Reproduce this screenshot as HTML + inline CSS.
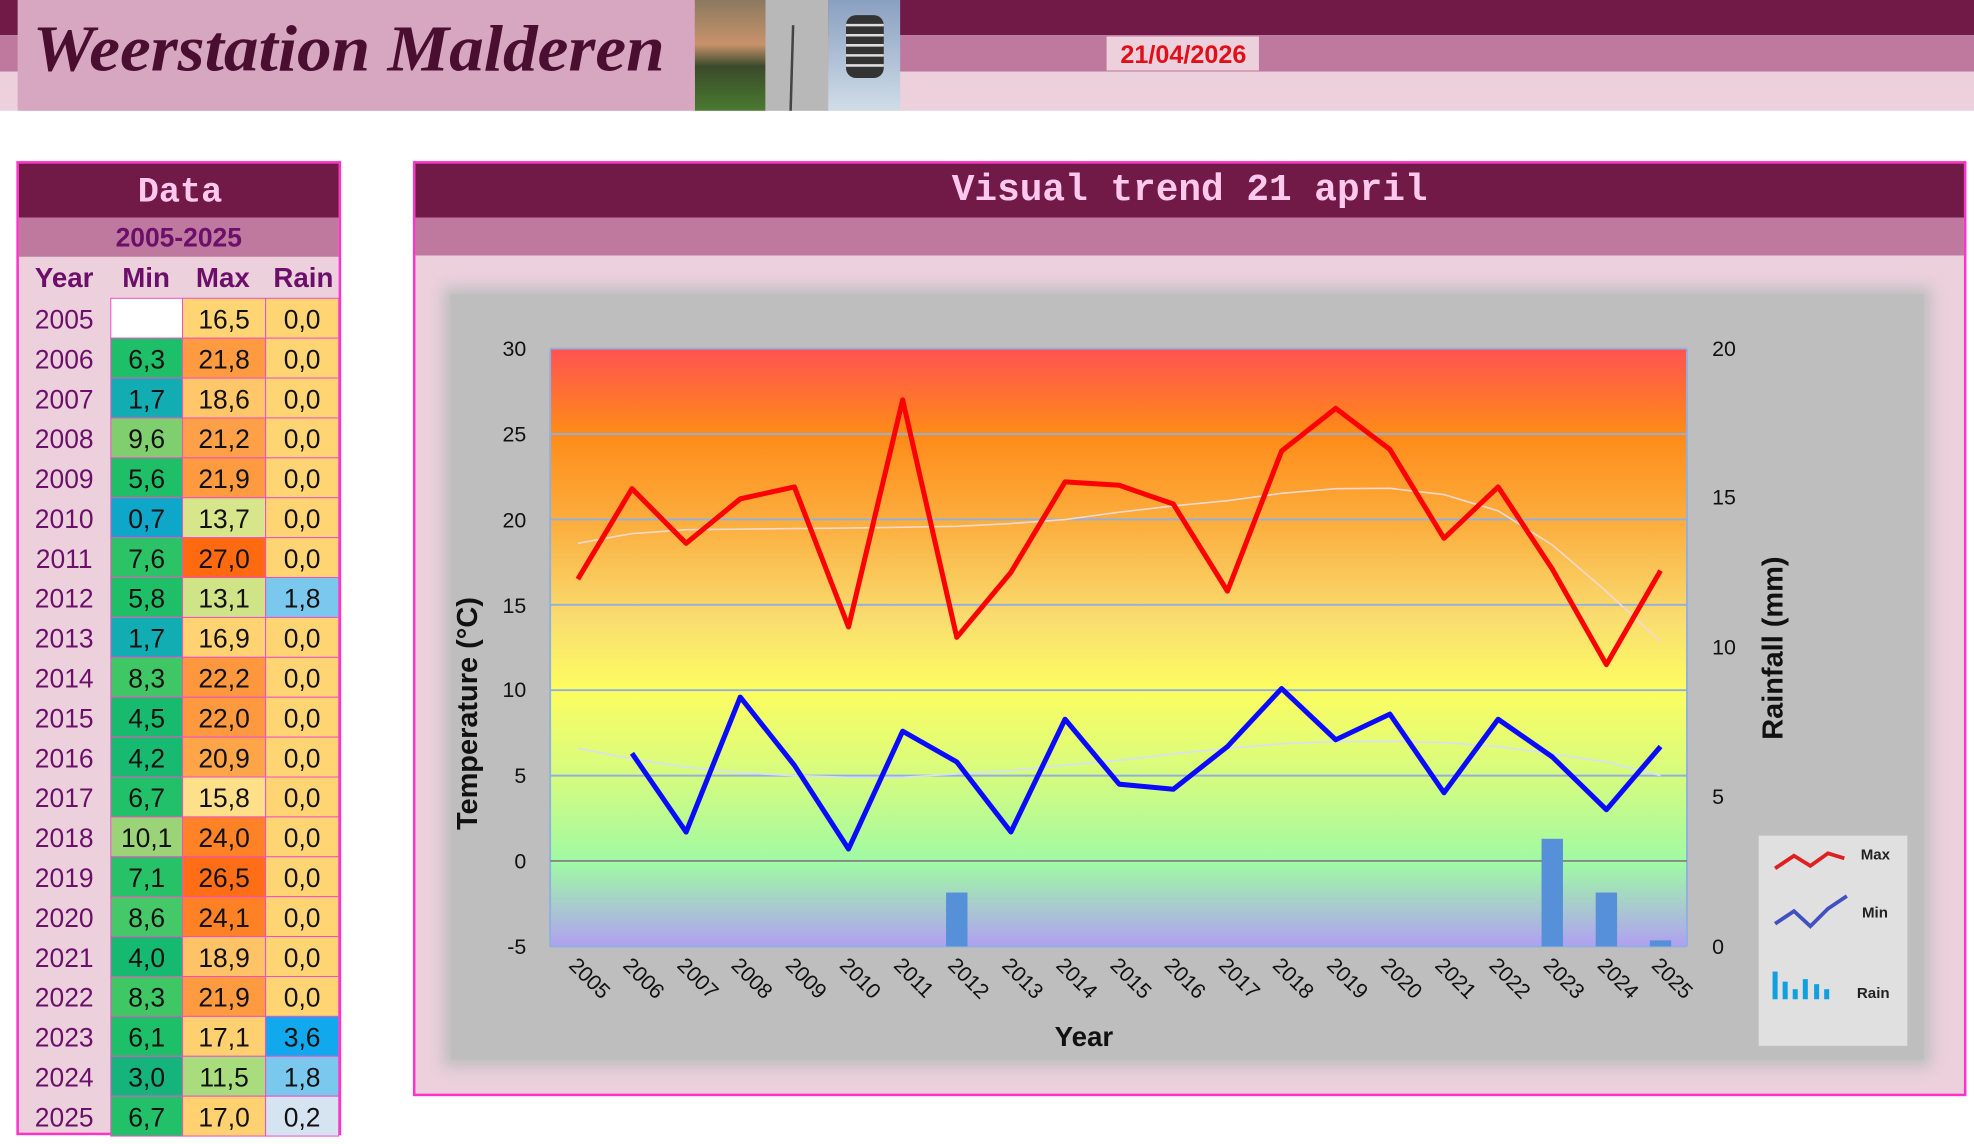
<!DOCTYPE html>
<html><head><meta charset="utf-8"><style>html,body{margin:0;padding:0;background:#fff;overflow:hidden}svg{display:block}</style></head><body>
<svg xmlns="http://www.w3.org/2000/svg" width="1974" height="1144" viewBox="0 0 1568 909" preserveAspectRatio="none" font-family="Liberation Sans, sans-serif">
<defs>
<linearGradient id="bg" x1="0" y1="0" x2="0" y2="1">
<stop offset="0" stop-color="#ff5252"/><stop offset="0.14" stop-color="#ff8a18"/><stop offset="0.3" stop-color="#fbb040"/><stop offset="0.45" stop-color="#f9dc70"/><stop offset="0.57" stop-color="#fdfd60"/><stop offset="0.72" stop-color="#d4fb80"/><stop offset="0.86" stop-color="#9ffaa4"/><stop offset="1" stop-color="#b0a0f2"/>
</linearGradient>
<filter id="bl"><feGaussianBlur stdDeviation="6"/></filter>
<linearGradient id="p1" x1="0" y1="0" x2="0" y2="1"><stop offset="0" stop-color="#8a7a60"/><stop offset="0.4" stop-color="#c8926a"/><stop offset="0.6" stop-color="#3a4a2a"/><stop offset="1" stop-color="#4a7a30"/></linearGradient>
<linearGradient id="p3" x1="0" y1="0" x2="0" y2="1"><stop offset="0" stop-color="#8aa0c0"/><stop offset="1" stop-color="#d0dde8"/></linearGradient>
</defs>
<!-- header -->
<rect x="0" y="0" width="1568" height="28" fill="#721a47"/>
<rect x="0" y="28" width="1568" height="29" fill="#c0799e"/>
<rect x="0" y="57" width="1568" height="31" fill="#ecd0dc"/>
<rect x="14" y="0" width="538" height="88" fill="#d7a6c0"/>
<text x="26" y="56" font-family="Liberation Serif, serif" font-style="italic" font-weight="bold" font-size="52" fill="#4a0e30" textLength="502" lengthAdjust="spacingAndGlyphs">Weerstation Malderen</text>
<rect x="552" y="0" width="56" height="88" fill="url(#p1)"/>
<rect x="608" y="0" width="50" height="88" fill="#b8b8b8"/>
<line x1="628" y1="88" x2="630" y2="20" stroke="#444" stroke-width="2"/>
<rect x="658" y="0" width="57" height="88" fill="url(#p3)"/>
<rect x="672" y="12" width="30" height="50" rx="8" fill="#333"/>
<g stroke="#ddd" stroke-width="2"><line x1="672" y1="20" x2="702" y2="20"/><line x1="672" y1="28" x2="702" y2="28"/><line x1="672" y1="36" x2="702" y2="36"/><line x1="672" y1="44" x2="702" y2="44"/><line x1="672" y1="52" x2="702" y2="52"/></g>
<rect x="879" y="29" width="121" height="27" fill="#ecd0dc"/>
<text x="940" y="50" text-anchor="middle" font-weight="bold" font-size="20" fill="#e0101a">21/04/2026</text>

<!-- data table -->
<rect x="14" y="129" width="256" height="772" fill="#ecd0dc" stroke="#ff33cc" stroke-width="2"/>
<rect x="15" y="130" width="254" height="43" fill="#721a47"/>
<text x="143" y="160" text-anchor="middle" font-family="Liberation Mono, monospace" font-weight="bold" font-size="28" fill="#ffc8ee">Data</text>
<rect x="15" y="173" width="254" height="31" fill="#c0799e"/>
<text x="142" y="196" text-anchor="middle" font-family="Liberation Sans Narrow, Liberation Sans, sans-serif" font-weight="bold" font-size="21" fill="#6b0f6b">2005-2025</text>
<g font-family="Liberation Sans Narrow, Liberation Sans, sans-serif" font-weight="bold" font-size="22" fill="#6b0f6b" text-anchor="middle">
<text x="51" y="228">Year</text><text x="116" y="228">Min</text><text x="177" y="228">Max</text><text x="241" y="228">Rain</text></g>
<g id="rows" font-family="Liberation Sans Narrow, Liberation Sans, sans-serif" font-size="21" text-anchor="middle" stroke-width="0.8"></g>

<!-- chart panel -->
<rect x="329" y="129" width="1232" height="741" fill="#ecd0dc" stroke="#ff33cc" stroke-width="2"/>
<rect x="330" y="130" width="1230" height="43" fill="#721a47"/>
<text x="945" y="159" text-anchor="middle" font-family="Liberation Mono, monospace" font-weight="bold" font-size="30" fill="#ffc8ee">Visual trend 21 april</text>
<rect x="330" y="173" width="1230" height="30" fill="#c0799e"/>
<rect x="352" y="228" width="1182" height="620" fill="#bebebe" filter="url(#bl)"/>
<rect x="358" y="234" width="1170" height="608" fill="#bebebe"/>
<rect x="437" y="277" width="903" height="475" fill="url(#bg)"/>
<g stroke="#8fb0e0" stroke-width="1.5">
<line x1="437" y1="277" x2="1340" y2="277"/><line x1="437" y1="344.9" x2="1340" y2="344.9"/><line x1="437" y1="412.7" x2="1340" y2="412.7"/><line x1="437" y1="480.6" x2="1340" y2="480.6"/><line x1="437" y1="548.4" x2="1340" y2="548.4"/><line x1="437" y1="616.3" x2="1340" y2="616.3"/>
<line x1="437" y1="277" x2="437" y2="752"/><line x1="1340" y1="277" x2="1340" y2="752"/></g>
<line x1="437" y1="684.1" x2="1340" y2="684.1" stroke="#888" stroke-width="1.5"/>
<line x1="437" y1="752" x2="1340" y2="752" stroke="#8fb0e0" stroke-width="1.5"/>
<g font-size="17" fill="#111" text-anchor="end">
<text x="418" y="283">30</text><text x="418" y="351">25</text><text x="418" y="419">20</text><text x="418" y="487">15</text><text x="418" y="554">10</text><text x="418" y="622">5</text><text x="418" y="690">0</text><text x="418" y="758">-5</text></g>
<g font-size="17" fill="#111">
<text x="1360" y="283">20</text><text x="1360" y="401">15</text><text x="1360" y="520">10</text><text x="1360" y="639">5</text><text x="1360" y="758">0</text></g>
<text transform="translate(379,567) rotate(-90)" text-anchor="middle" font-weight="bold" font-size="23" fill="#111">Temperature (°C)</text>
<text transform="translate(1416,515) rotate(-90)" text-anchor="middle" font-weight="bold" font-size="23" fill="#111">Rainfall (mm)</text>
<text x="861" y="831" text-anchor="middle" font-weight="bold" font-size="22" font-family="Liberation Sans Narrow, Liberation Sans, sans-serif" fill="#111">Year</text>
<g id="xl" font-size="17" fill="#111"></g>
<!-- bars -->
<g fill="#5590d8">
<rect x="751.5" y="709.2" width="17" height="42.8"/><rect x="1224.5" y="666.5" width="17" height="85.5"/><rect x="1267.5" y="709.2" width="17" height="42.8"/><rect x="1310.5" y="747.2" width="17" height="4.8"/></g>
<!-- trends -->
<polyline fill="none" stroke="#f4d8d0" stroke-width="1.3" points="459,431.7 502,424 545,420.9 631,420 674,419.6 760,418.2 803,416 846,412.8 889,407 932,402 975,397.8 1018,392 1061,388.3 1104,388 1147,393 1190,405.9 1233,433 1276,470 1319,510"/>
<polyline fill="none" stroke="#d8e0f8" stroke-width="1.3" points="459,594.6 502,603 545,609.5 588,614 631,616.3 674,617.6 717,617.6 760,615 803,612.2 846,608 889,604.1 932,599 975,594.6 1018,591 1061,589.1 1104,589 1147,590 1190,593.2 1233,599 1276,605.4 1319,616.3"/>
<polyline fill="none" stroke="#ff0000" stroke-width="4" stroke-linejoin="round" points="459,460.2 502,388.3 545,431.7 588,396.4 631,386.9 674,498.2 717,317.7 760,506.4 803,454.8 846,382.9 889,385.6 932,400.5 975,469.7 1018,358.4 1061,324.5 1104,357.1 1147,427.7 1190,386.9 1233,452.1 1276,528.1 1319,453.4"/>
<polyline fill="none" stroke="#0a0aff" stroke-width="4" stroke-linejoin="round" points="502,598.6 545,661.1 588,553.9 631,608.1 674,674.6 717,581 760,605.4 803,661.1 846,571.5 889,623.1 932,627.1 975,593.2 1018,547.1 1061,587.8 1104,567.4 1147,629.9 1190,571.5 1233,601.4 1276,643.4 1319,593.2"/>
<!-- legend -->
<rect x="1397" y="664" width="118" height="167" fill="#e0e0e0"/>
<polyline fill="none" stroke="#e02020" stroke-width="3" points="1410,690 1425,680 1438,688 1452,678 1465,682"/>
<polyline fill="none" stroke="#4050c0" stroke-width="3" points="1410,734 1425,724 1438,736 1452,722 1467,712"/>
<g fill="#10a0e0"><rect x="1408" y="772" width="4" height="22"/><rect x="1416" y="780" width="4" height="14"/><rect x="1424" y="786" width="4" height="8"/><rect x="1432" y="778" width="4" height="16"/><rect x="1441" y="782" width="4" height="12"/><rect x="1449" y="786" width="4" height="8"/></g>
<g font-size="12" font-weight="bold" fill="#222"><text x="1478" y="683">Max</text><text x="1479" y="729">Min</text><text x="1475" y="793">Rain</text></g>
<script>
var ns="http://www.w3.org/2000/svg";
var d=[[2005,null,"#fff",16.5,"#ffd574","0,0","#ffd574"],[2006,"6,3","#1dbf68","21,8","#fe9b41","0,0","#ffd574"],[2007,"1,7","#12adb2","18,6","#ffc66a","0,0","#ffd574"],[2008,"9,6","#7fcf6e","21,2","#fea047","0,0","#ffd574"],[2009,"5,6","#1fbf68","21,9","#fe9a40","0,0","#ffd574"],[2010,"0,7","#0fa7c9","13,7","#d7e68a","0,0","#ffd574"],[2011,"7,6","#2cc266","27,0","#ff6a10","0,0","#ffd574"],[2012,"5,8","#1fbf68","13,1","#cfe486","1,8","#7ac8ee"],[2013,"1,7","#12adb2","16,9","#ffd272","0,0","#ffd574"],[2014,"8,3","#3fc766","22,2","#fe973d","0,0","#ffd574"],[2015,"4,5","#18bb6e","22,0","#fe993f","0,0","#ffd574"],[2016,"4,2","#17ba70","20,9","#fea54a","0,0","#ffd574"],[2017,"6,7","#22c068","15,8","#ffe08a","0,0","#ffd574"],[2018,"10,1","#9bd478","24,0","#ff8226","0,0","#ffd574"],[2019,"7,1","#27c167","26,5","#ff6e16","0,0","#ffd574"],[2020,"8,6","#45c867","24,1","#ff8125","0,0","#ffd574"],[2021,"4,0","#16b970","18,9","#ffc367","0,0","#ffd574"],[2022,"8,3","#3fc766","21,9","#fe9a40","0,0","#ffd574"],[2023,"6,1","#1dbf68","17,1","#ffd070","3,6","#12a8ee"],[2024,"3,0","#14b47c","11,5","#a8dc7c","1,8","#7ac8ee"],[2025,"6,7","#22c068","17,0","#ffd171","0,2","#d6e4f2"]];
var g=document.getElementById("rows");
function el(t,a,txt){var e=document.createElementNS(ns,t);for(var k in a)e.setAttribute(k,a[k]);if(txt!=null)e.textContent=txt;g.appendChild(e);return e;}
var cols=[[88,57],[145,66],[211,58]];
d.forEach(function(r,i){var y=237+31.7*i;
el("text",{x:51,y:y+24,fill:"#6b0f6b"},r[0]);
for(var c=0;c<3;c++){var v=r[1+c*2],col=r[2+c*2];
el("rect",{x:cols[c][0],y:y,width:cols[c][1],height:31.7,fill:col,stroke:"#f050c8"});
if(v!=null)el("text",{x:cols[c][0]+cols[c][1]/2,y:y+24,fill:"#111"},String(v).replace(".",","));}
});
var xl=document.getElementById("xl");
for(var i=0;i<21;i++){var x=459+43*i-8,y=768;var t=document.createElementNS(ns,"text");t.setAttribute("transform","translate("+x+","+y+") rotate(45)");t.textContent=2005+i;xl.appendChild(t);}
</script>
</svg>
</body></html>
